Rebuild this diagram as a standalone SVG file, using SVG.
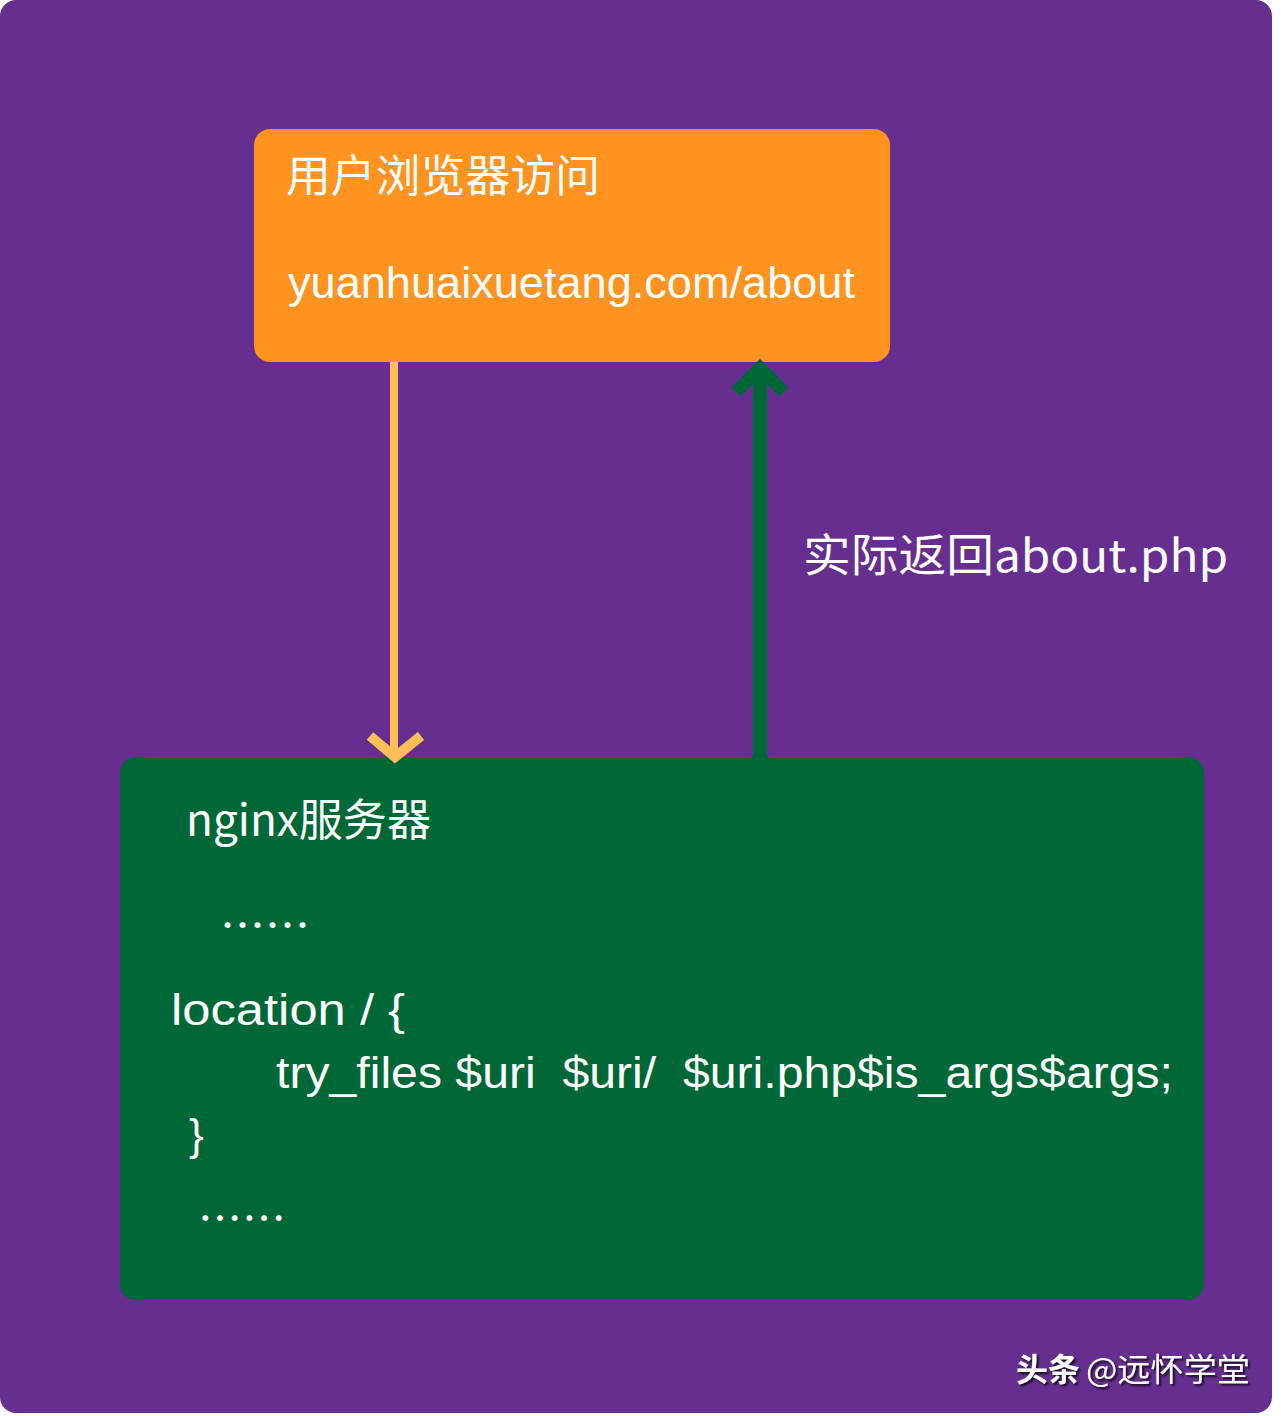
<svg xmlns="http://www.w3.org/2000/svg" width="1281" height="1416" viewBox="0 0 1281 1416">
<defs>
<style>
.t{font-family:"Liberation Sans","Noto Sans CJK SC",sans-serif;fill:#ffffff;}
.cjk{font-family:"Noto Sans CJK SC","Liberation Sans",sans-serif;fill:#ffffff;}
</style>
<filter id="sh" x="-10%" y="-30%" width="130%" height="160%">
<feDropShadow dx="2" dy="2" stdDeviation="0.8" flood-color="#000" flood-opacity="0.8"/>
</filter>
</defs>
<rect x="0" y="0" width="1281" height="1416" fill="#ffffff"/>
<rect id="bg" x="0" y="0" width="1272" height="1413" rx="16" fill="#652e8f"/>
<g id="browser">
<rect x="254" y="129" width="636" height="233" rx="16" fill="#ff9320"/>
<text class="cjk" x="286" y="192" font-size="44" textLength="314" lengthAdjust="spacingAndGlyphs">用户浏览器访问</text>
<text class="t" x="288" y="298" font-size="45" textLength="567" lengthAdjust="spacingAndGlyphs">yuanhuaixuetang.com/about</text>
</g>
<g id="nginx">
<rect x="120" y="757" width="1084" height="543" rx="16" fill="#006837"/>
<text class="cjk" x="186" y="836" font-size="44" textLength="245" lengthAdjust="spacingAndGlyphs">nginx服务器</text>
<text class="cjk" x="220" y="942" font-size="44" textLength="90" lengthAdjust="spacingAndGlyphs">……</text>
<text class="t" x="171" y="1025" font-size="44" textLength="234" lengthAdjust="spacingAndGlyphs">location / {</text>
<text class="t" x="276" y="1088" font-size="44" textLength="897" lengthAdjust="spacingAndGlyphs" xml:space="preserve">try_files $uri  $uri/  $uri.php$is_args$args;</text>
<text class="t" x="189" y="1150" font-size="44">}</text>
<text class="cjk" x="198" y="1235" font-size="44" textLength="88" lengthAdjust="spacingAndGlyphs">……</text>
</g>
<g id="connectors">
<g id="down-arrow" stroke="#ffbf57" fill="none" stroke-width="8">
<line x1="394" y1="362" x2="394" y2="755"/>
<polyline points="370,736 395,757 421,736" stroke-width="10"/>
</g>
<g id="up-arrow" stroke="#006837" fill="none" stroke-width="14">
<line x1="760" y1="760" x2="760" y2="370"/>
<polyline points="736,392 760,368 784,392" stroke-width="13"/>
</g>
<text class="cjk" x="803" y="572" font-size="45" textLength="425" lengthAdjust="spacingAndGlyphs">实际返回about.php</text>
</g>
<g id="watermark" filter="url(#sh)">
<text class="cjk" x="1016" y="1381" font-size="32" font-weight="bold">头条</text>
<text class="cjk" x="1086" y="1381" font-size="32" textLength="164" lengthAdjust="spacingAndGlyphs">@远怀学堂</text>
</g>
</svg>
